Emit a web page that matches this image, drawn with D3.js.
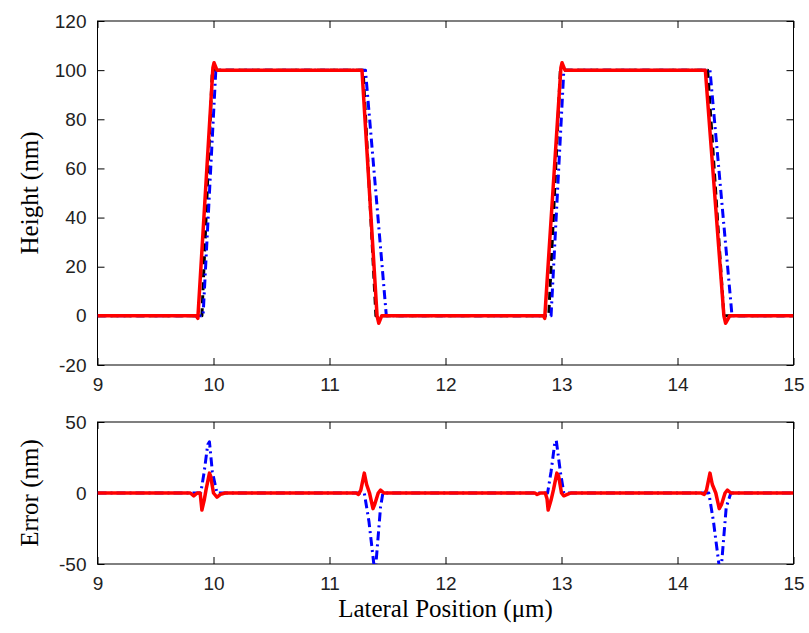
<!DOCTYPE html>
<html>
<head>
<meta charset="utf-8">
<script src="https://cdn.jsdelivr.net/npm/d3@7"></script>
<style>
  html, body { margin: 0; padding: 0; background: #fff; }
  svg { display: block; }
</style>
</head>
<body>
<svg id="chart" width="809" height="633"></svg>
<script>
// ---------------- DATA ----------------
const xTicks = [9, 10, 11, 12, 13, 14, 15];
const heightTicks = [-20, 0, 20, 40, 60, 80, 100, 120];
const errorTicks = [-50, 0, 50];

// True profile (black dashed)
const trueX = [9, 9.90, 9.99, 11.29, 11.40, 12.89, 12.99, 14.26, 14.40, 15];
const trueH = [0, 0, 100, 100, 0, 0, 100, 100, 0, 0];

// Model profile (blue dash-dot)
const modelX = [9, 9.91, 10.02, 11.31, 11.49, 12.91, 13.02, 14.28, 14.47, 15];
const modelH = [0, 0, 100, 100, 0, 0, 100, 100, 0, 0];

// Reconstructed profile (red solid)
const reconX = [9, 9.85, 9.865, 9.995, 10.005, 10.03, 11.28, 11.41, 11.425, 11.45,
                12.845, 12.855, 12.995, 13.005, 13.03, 14.24, 14.40, 14.415, 14.45, 15];
const reconH = [0, 0, -1, 101, 103, 100, 100, 0, -3, 0,
                0, -1, 101, 103, 100, 100, 0, -3, 0, 0];

// Model error (blue dash-dot)
const modelErrX = [9, 9.89, 9.92, 9.95, 9.965, 9.99, 10.03,
                   11.30, 11.34, 11.385, 11.40, 11.44, 11.46,
                   12.88, 12.91, 12.94, 12.955, 12.99, 13.02,
                   14.27, 14.31, 14.36, 14.38, 14.42, 14.46, 15];
const modelErr = [0, 0, 15, 34, 36, 15, 0,
                  0, -20, -52, -50, -10, 0,
                  0, 15, 34, 37, 15, 0,
                  0, -20, -52, -50, -10, 0, 0];

// Reconstruction error (red solid)
const reconErrX = [9, 9.80, 9.83, 9.86, 9.885, 9.90, 9.92, 9.935, 9.965, 9.975, 10.00, 10.03, 10.06, 10.10,
                   11.23, 11.25, 11.27, 11.30, 11.32, 11.345, 11.375, 11.39, 11.42, 11.44, 11.47,
                   12.77, 12.79, 12.82, 12.86, 12.875, 12.885, 12.91, 12.93, 12.96, 12.975, 13.00, 13.02, 13.05, 13.08,
                   14.20, 14.23, 14.25, 14.28, 14.30, 14.33, 14.36, 14.38, 14.41, 14.43, 14.46, 15];
const reconErr = [0, 0, -2, 0, 0, -12, -5, 2, 14, 12, 0, -3, -1, 0,
                  0, -1, 2, 14, 6, 0, -11, -8, 0, 2, 0,
                  0, -1, 0, 0, -4, -12, -5, 2, 14, 12, 0, -2, -1, 0,
                  0, -1, 2, 14, 6, 0, -11, -8, 0, 2, 0, 0];

// ---------------- DRAW ----------------
const svg = d3.select("#chart");
const L = 97.5, R = 793.5;
const top1 = 21, bot1 = 365;
const top2 = 422, bot2 = 564;

const x = d3.scaleLinear().domain([9, 15]).range([L, R]);
const y1 = d3.scaleLinear().domain([-20, 120]).range([bot1, top1]);
const y2 = d3.scaleLinear().domain([-50, 50]).range([bot2, top2]);

const tickFont = "'Liberation Sans', Arial, sans-serif";
const titleFont = "'Liberation Serif', 'Times New Roman', serif";
const fmt = d => String(d);

const defs = svg.append("defs");
defs.append("clipPath").attr("id", "clip1").append("rect")
  .attr("x", L).attr("y", top1).attr("width", R - L).attr("height", bot1 - top1);
defs.append("clipPath").attr("id", "clip2").append("rect")
  .attr("x", L).attr("y", top2).attr("width", R - L).attr("height", bot2 - top2);

function zip(xs, ys) { return xs.map((v, i) => [v, ys[i]]); }

function panel(yScale, yTickVals, yTop, yBot, clipId, series) {
  const g = svg.append("g");
  const tl = 7;
  const gb = g.append("g").attr("transform", `translate(0,${yBot})`)
    .call(d3.axisBottom(x).tickValues(xTicks).tickSize(-tl).tickPadding(13).tickFormat(fmt));
  const gt = g.append("g").attr("transform", `translate(0,${yTop})`)
    .call(d3.axisTop(x).tickValues(xTicks).tickSize(-tl).tickFormat(""));
  const gl = g.append("g").attr("transform", `translate(${L},0)`)
    .call(d3.axisLeft(yScale).tickValues(yTickVals).tickSize(-tl).tickPadding(11).tickFormat(fmt));
  const gr = g.append("g").attr("transform", `translate(${R},0)`)
    .call(d3.axisRight(yScale).tickValues(yTickVals).tickSize(-tl).tickFormat(""));
  [gb, gt, gl, gr].forEach(a => {
    a.select(".domain").remove();
    a.selectAll("line").attr("stroke", "#000").attr("stroke-width", 1);
    a.selectAll("text").attr("font-family", tickFont).attr("font-size", 19).attr("fill", "#222");
  });
  g.append("rect").attr("x", L).attr("y", yTop).attr("width", R - L).attr("height", yBot - yTop)
    .attr("fill", "none").attr("stroke", "#000").attr("stroke-width", 1);

  const line = d3.line().x(d => x(d[0])).y(d => yScale(d[1]));
  const pg = g.append("g").attr("clip-path", `url(#${clipId})`);
  series.forEach(s => {
    pg.append("path").datum(s.data).attr("d", line)
      .attr("fill", "none").attr("stroke", s.color).attr("stroke-width", s.width)
      .attr("stroke-dasharray", s.dash || null).attr("stroke-linejoin", "round");
  });
}

panel(y1, heightTicks, top1, bot1, "clip1", [
  { data: zip(trueX, trueH), color: "#000", width: 3, dash: "8,5" },
  { data: zip(modelX, modelH), color: "#0000ff", width: 3, dash: "9,4,2,4" },
  { data: zip(reconX, reconH), color: "#ff0000", width: 3.5 }
]);

panel(y2, errorTicks, top2, bot2, "clip2", [
  { data: zip(modelErrX, modelErr), color: "#0000ff", width: 3, dash: "9,4,2,4" },
  { data: zip(reconErrX, reconErr), color: "#ff0000", width: 3.5 }
]);

// Titles
svg.append("text").attr("transform", `translate(38,${(top1 + bot1) / 2}) rotate(-90)`)
  .attr("text-anchor", "middle").attr("font-family", titleFont).attr("font-size", 25)
  .text("Height (nm)");
svg.append("text").attr("transform", `translate(38,${(top2 + bot2) / 2}) rotate(-90)`)
  .attr("text-anchor", "middle").attr("font-family", titleFont).attr("font-size", 25)
  .text("Error (nm)");
svg.append("text").attr("x", (L + R) / 2).attr("y", 617)
  .attr("text-anchor", "middle").attr("font-family", titleFont).attr("font-size", 25)
  .text("Lateral Position (\u03bcm)");
</script>
</body>
</html>
